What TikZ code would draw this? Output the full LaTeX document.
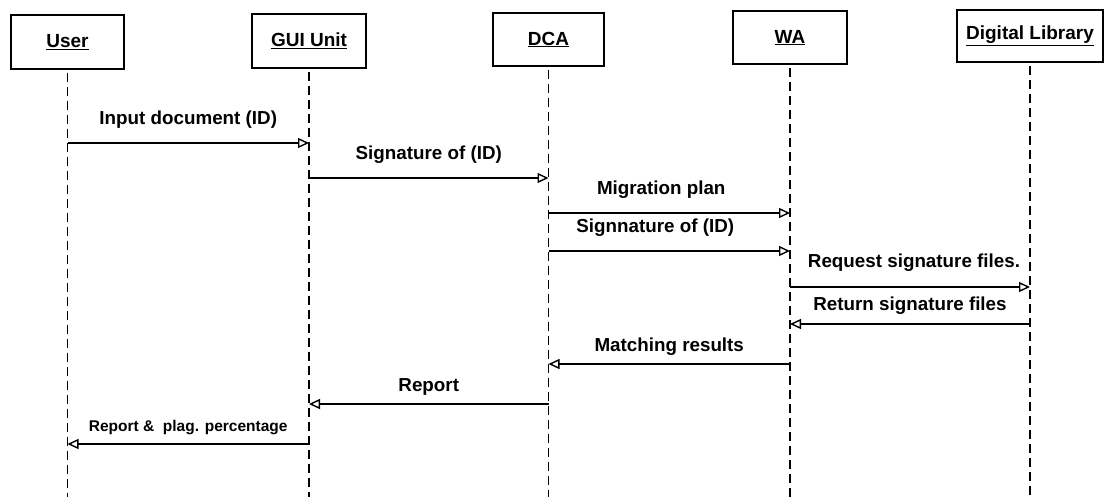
\documentclass[tikz,border=0pt]{standalone}
\usepackage{fontspec}
\setmainfont{Liberation Sans}
\usetikzlibrary{arrows.meta}
\begin{document}
\begin{tikzpicture}[x=1pt,y=-1pt,
  actor/.style={draw, line width=1.2pt, inner sep=0pt, font=\fontsize{19}{22}\selectfont\bfseries},
  lifeline/.style={line width=1.2pt, dash pattern=on 9pt off 5pt},
  msg/.style={line width=1.2pt, -{Triangle[open, length=11pt, width=10pt, line width=1.4pt]}},
  lbl/.style={font=\fontsize{18.8}{22}\selectfont\bfseries, inner sep=0pt}]
\useasboundingbox (0,0) rectangle (1104,497);

% participants
\node[actor, minimum width=113pt, minimum height=54pt] (user) at (67.5,42)  {\underline{User}};
\node[actor, minimum width=114pt, minimum height=54pt] (gui)  at (309,41)   {\underline{GUI Unit}};
\node[actor, minimum width=111pt, minimum height=53pt] (dca)  at (548.5,39.5){\underline{DCA}};
\node[actor, minimum width=114pt, minimum height=53pt] (wa)   at (790,37.5) {\underline{WA}};
\node[actor, minimum width=146pt, minimum height=52pt] (dl)   at (1030,36)  {\underline{Digital Library}};

% lifelines
\foreach \p in {user,gui,dca,wa,dl}
  \draw[lifeline] ([yshift=-3pt]\p.south) -- (\p.south |- 0,497);

% messages
\draw[msg] (user |- 0,143) -- node[lbl, yshift=23pt] {Input document (ID)} (gui |- 0,143);
\draw[msg] (gui |- 0,178) -- node[lbl, yshift=23pt] {Signature of (ID)} (dca |- 0,178);
\draw[msg] (dca |- 0,213) -- node[lbl, yshift=23pt, xshift=-8pt] {Migration plan} (wa |- 0,213);
\draw[msg] (dca |- 0,251) -- node[lbl, yshift=23pt, xshift=-14pt] {Signnature of (ID)} (wa |- 0,251);
\draw[msg] (wa |- 0,287) -- node[lbl, yshift=24pt, xshift=4pt] {Request signature files.} (dl |- 0,287);
\draw[msg] (dl |- 0,324) -- node[lbl, yshift=18pt] {Return signature files} (wa |- 0,324);
\draw[msg] (wa |- 0,364) -- node[lbl, yshift=17pt] {Matching results} (dca |- 0,364);
\draw[msg] (dca |- 0,404) -- node[lbl, yshift=17pt] {Report} (gui |- 0,404);
\draw[msg] (gui |- 0,444) -- node[lbl, yshift=16pt, font=\fontsize{15.5}{18}\selectfont\bfseries] {Report \&\ \ plag. percentage} (user |- 0,444);
\end{tikzpicture}
\end{document}
